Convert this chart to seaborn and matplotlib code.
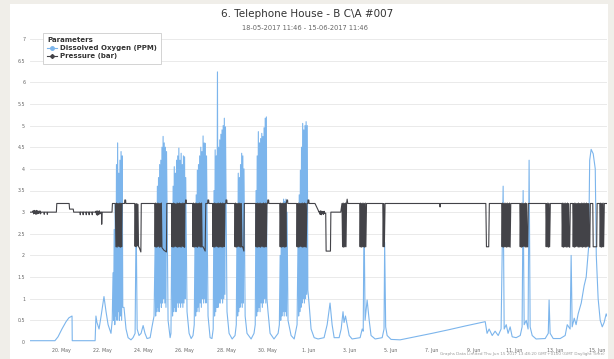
import matplotlib
matplotlib.use("Agg")
import matplotlib.pyplot as plt
import matplotlib.dates as mdates
from matplotlib.lines import Line2D
from matplotlib.patches import Rectangle
from matplotlib.ticker import FixedLocator, FuncFormatter, MultipleLocator
import pandas as pd
import seaborn as sns

# ---------------------------------------------------------------- data
START = pd.Timestamp("2017-05-18 11:46")
END = pd.Timestamp("2017-06-15 11:46")
LOG_STEP_DAYS = 40 / 1440          # logger interval inside aeration bursts

TITLE = "6. Telephone House - B C\\A #007"
SUBTITLE = "18-05-2017 11:46 - 15-06-2017 11:46"
CREDITS = "Graphs Data Limited Thu Jun 15 2017 13:48:20 GMT+0100 (GMT Daylight Time)"
SERIES_NAMES = ["Dissolved Oxygen (PPM)", "Pressure (bar)"]
LEGEND_TITLE = "Parameters"
X_TICK_DATES = pd.date_range("2017-05-20", "2017-06-15", freq="2D")

# Dissolved oxygen, sparse readings (days since start, ppm)
DO_DAYS = [0.00, 1.21, 1.36, 1.55, 1.75, 1.89, 2.04, 2.05, 3.16, 3.20, 3.25, 3.35,
           3.45, 3.59, 3.69, 3.79, 3.93, 3.99,
           4.56, 4.66, 4.76, 4.90, 5.00, 5.10, 5.15, 5.20, 5.29, 5.39, 5.49, 5.58,
           5.68, 5.83, 5.92, 6.02,
           6.70, 6.80, 6.84,
           7.62, 7.72, 7.82, 7.91, 7.97,
           8.64, 8.74, 8.83, 8.89,
           9.56, 9.66, 9.81, 9.95, 10.01,
           10.44, 10.53, 10.73, 10.87, 10.93,
           11.55, 11.65, 11.84, 12.04, 12.10,
           12.52, 12.67, 12.82, 12.96,
           13.54, 13.64, 13.79, 13.98, 14.27, 14.42, 14.56, 14.66, 14.76, 15.00,
           15.10, 15.19, 15.24, 15.31, 15.39, 15.49, 15.63, 16.02, 16.12, 16.17,
           16.21, 16.26, 16.36, 16.46, 16.55, 16.75, 17.09, 17.18, 17.21, 17.26,
           17.33, 17.52, 17.96, 18.69, 19.51, 20.29, 21.12, 22.09, 22.18, 22.28,
           22.43, 22.57, 22.72, 22.86, 22.96, 23.01, 23.11, 23.20, 23.30, 23.40,
           23.59, 23.79, 23.88, 23.93, 23.98, 24.08, 24.17, 24.22, 24.27, 24.37,
           24.56, 25.00, 25.15, 25.19, 25.24, 25.39, 25.73, 25.97, 26.07, 26.21,
           26.26, 26.31, 26.41, 26.50, 26.60, 26.75, 26.89, 26.99, 27.04, 27.11,
           27.16, 27.23, 27.33, 27.43, 27.48, 27.57, 27.67, 27.77, 27.86, 27.96,
           28.00]
DO_PPM = [0.03, 0.03, 0.12, 0.30, 0.47, 0.56, 0.60, 0.03, 0.03, 0.60, 0.45, 0.30,
          0.60, 1.05, 0.70, 0.40, 0.20, 0.50,
          0.80, 0.30, 0.10, 0.05, 0.10, 0.20, 2.90, 0.30, 0.15, 0.20, 0.38, 0.20,
          0.08, 0.10, 0.35, 0.60,
          0.50, 0.10, 0.20,
          0.70, 0.20, 0.08, 0.15, 0.40,
          0.60, 0.10, 0.08, 0.30,
          0.70, 0.20, 0.07, 0.15, 0.40,
          0.60, 0.20, 0.07, 0.20, 0.40,
          0.70, 0.20, 0.07, 0.20, 0.40,
          0.50, 0.15, 0.07, 0.40,
          0.90, 0.30, 0.10, 0.07, 0.10, 0.40, 0.90, 0.40, 0.10, 0.10,
          0.30, 0.70, 0.45, 0.60, 0.40, 0.15, 0.07, 0.10, 0.30, 0.25,
          3.00, 0.50, 0.97, 0.50, 0.15, 0.07, 0.10, 0.30, 2.30, 0.35,
          0.15, 0.06, 0.05, 0.12, 0.20, 0.28, 0.37, 0.47, 0.20, 0.30,
          0.15, 0.25, 0.15, 0.30, 3.60, 0.30, 0.40, 0.20, 0.35, 0.12,
          0.10, 0.15, 0.35, 3.50, 0.40, 0.50, 0.30, 4.20, 0.35, 0.15,
          0.07, 0.08, 0.20, 0.97, 0.20, 0.08, 0.08, 0.15, 0.40, 0.30,
          2.00, 0.35, 0.55, 0.40, 0.65, 0.90, 1.30, 1.50, 1.80, 2.20,
          4.20, 4.45, 4.35, 4.00, 2.00, 1.00, 0.50, 0.35, 0.45, 0.65,
          0.60]

# Dissolved oxygen during aeration bursts (burst start day, readings)
DO_BURST_START = [4.03, 6.07, 6.89, 8.01, 8.93, 10.05, 10.97, 12.14, 13.01]
DO_BURST_PPM = [
    [1.6, 0.5, 2.6, 0.4, 3.2, 0.6, 4.1, 0.5, 4.6, 0.7, 3.9, 0.5, 4.2, 0.6, 4.4, 0.5, 4.3, 0.8],
    [2.2, 0.6, 2.9, 0.7, 3.6, 0.8, 3.8, 0.7, 4.1, 0.9, 4.2, 0.8, 4.5, 0.9, 4.75, 1.0, 4.6, 0.9,
     4.5, 0.8, 4.4],
    [3.0, 0.6, 3.6, 0.7, 4.05, 0.8, 3.9, 0.7, 4.2, 0.9, 4.3, 0.8, 4.48, 0.9, 4.2, 0.8, 4.36, 0.9,
     4.1, 0.8, 4.3, 0.9, 4.28, 1.0, 3.8],
    [2.5, 0.6, 3.4, 0.7, 3.97, 0.8, 4.1, 0.7, 4.3, 0.9, 4.5, 0.8, 4.4, 1.0, 4.76, 0.9, 4.6, 1.0,
     4.59, 0.9, 4.3],
    [3.5, 0.6, 4.44, 0.7, 4.3, 0.8, 6.24, 0.8, 4.5, 0.9, 4.67, 0.9, 4.8, 1.0, 4.9, 0.9, 5.0, 1.0,
     5.17, 1.1, 4.97],
    [3.0, 0.6, 3.9, 0.7, 3.8, 0.8, 4.1, 0.9, 4.36, 0.8, 4.3, 0.9, 4.0],
    [3.5, 0.6, 4.3, 0.7, 4.86, 0.8, 4.6, 0.7, 4.7, 0.9, 4.82, 0.8, 4.75, 0.9, 4.95, 1.0, 5.17, 0.9,
     5.2, 1.0],
    [2.0, 0.5, 2.8, 0.6, 3.2, 0.7, 3.3, 0.6, 3.25, 0.7, 3.3, 0.6, 3.0],
    [2.5, 0.6, 3.4, 0.7, 3.97, 0.8, 4.5, 0.9, 5.05, 1.0, 4.9, 0.9, 5.0, 1.0, 5.09, 1.1, 5.0, 1.2],
]

# Pressure, sparse readings (days since start, bar)
P_DAYS = [0.00, 0.12, 0.55, 0.68, 0.69, 0.71, 0.83, 0.84, 0.86, 1.28, 1.30, 1.90,
          1.92, 2.10, 2.12, 2.43, 2.44, 2.45, 2.57, 2.58, 2.59, 2.72, 2.73, 2.74,
          2.86, 2.87, 2.88, 3.01, 3.02, 3.03, 3.18, 3.42, 3.47, 3.48, 3.50, 3.98,
          4.00, 4.14, 4.47, 4.59, 4.60, 4.64, 4.65, 5.08, 5.38, 5.40, 6.05, 6.50,
          6.62, 6.64, 6.87, 7.52, 7.54, 7.55, 7.58, 7.59, 7.89, 8.40, 8.50, 8.53,
          8.62, 8.63, 8.67, 8.68, 8.86, 9.46, 9.50, 9.51, 9.55, 9.56, 9.93, 10.32,
          10.38, 10.40, 10.95, 11.50, 11.53, 11.54, 11.58, 11.59, 12.12, 12.44, 12.46, 12.50,
          12.51, 12.94, 13.44, 13.48, 13.49, 13.53, 13.54, 13.83, 13.98, 14.02, 14.35, 14.37,
          14.58, 14.60, 15.08, 15.11, 15.39, 15.42, 16.00, 16.33, 17.12, 17.23, 19.88, 19.90,
          19.92, 22.12, 22.15, 22.26, 22.29, 22.89, 23.33, 23.77, 24.18, 25.03, 25.25, 25.81,
          26.22, 26.34, 27.19, 27.31, 27.33, 27.50, 27.52, 27.65, 27.87, 28.00]
P_BAR = [3.00, 3.00, 3.00, 3.00, 2.95, 3.00, 3.00, 2.95, 3.00, 3.00, 3.20, 3.20,
         3.07, 3.07, 3.00, 3.00, 2.94, 3.00, 3.00, 2.94, 3.00, 3.00, 2.94, 3.00,
         3.00, 2.94, 3.00, 3.00, 2.94, 3.00, 3.00, 3.00, 3.00, 2.72, 3.00, 3.00,
         3.20, 3.20, 3.20, 3.20, 3.28, 3.28, 3.20, 3.20, 2.08, 3.20, 3.20, 2.12,
         2.08, 3.20, 3.20, 3.20, 3.20, 3.28, 3.28, 3.20, 3.20, 2.20, 2.10, 3.20,
         3.20, 3.28, 3.28, 3.20, 3.20, 3.20, 3.20, 3.28, 3.28, 3.20, 3.20, 2.20,
         2.10, 3.20, 3.20, 3.20, 3.20, 3.28, 3.28, 3.20, 3.20, 3.20, 3.28, 3.28,
         3.20, 3.20, 3.20, 3.20, 3.28, 3.28, 3.20, 3.20, 3.05, 3.00, 2.98, 2.10,
         2.10, 3.00, 3.00, 3.10, 3.30, 3.20, 3.20, 3.20, 3.20, 3.20, 3.20, 3.12,
         3.20, 3.20, 2.20, 2.20, 3.20, 3.20, 3.20, 3.20, 3.20, 3.20, 3.20, 3.20,
         3.20, 3.20, 3.20, 3.20, 2.20, 2.20, 3.20, 3.20, 3.20, 3.20]

# Pressure during aeration bursts (burst start day, readings)
P_BURST_START = [0.15, 3.20, 4.17, 5.10, 6.07, 6.89, 7.91, 8.88, 9.95, 10.97, 12.14,
                 12.96, 14.05, 15.14, 16.02, 17.14, 22.91, 23.79, 25.05, 25.83, 26.36,
                 27.67]
P_BURST_BAR = [
    [3.03, 2.96, 3.04, 2.97, 3.03, 2.95, 3.04, 2.96, 3.03, 2.97, 3.02, 2.98, 3.03, 2.96],
    [3.02, 2.94, 3.03, 2.93, 3.02, 2.95, 3.03, 2.96],
    [2.20, 3.21, 2.19, 3.20, 2.21, 3.20, 2.20, 3.21, 2.19, 3.20, 2.20],
    [2.21, 3.19, 2.20, 3.20, 2.22, 3.18, 2.20, 2.19],
    [2.20, 3.21, 2.19, 3.20, 2.20, 3.21, 2.21, 3.20, 2.19, 3.20, 2.20, 3.21, 2.18],
    [2.20, 3.20, 2.19, 3.21, 2.20, 3.20, 2.21, 3.19, 2.20, 3.21, 2.19, 3.20, 2.20, 3.21,
     2.20, 3.20, 2.19, 3.20, 2.21, 3.21, 2.20, 3.20, 2.19],
    [2.20, 3.21, 2.19, 3.20, 2.20, 3.21, 2.20, 3.20, 2.19, 3.20, 2.21, 3.21, 2.20, 3.20,
     2.19, 3.21, 2.20],
    [2.20, 3.20, 2.19, 3.21, 2.20, 3.20, 2.21, 3.20, 2.20, 3.21, 2.19, 3.20, 2.20, 3.21,
     2.20, 3.20, 2.19, 3.21, 2.20, 3.20, 2.21],
    [2.20, 3.21, 2.19, 3.20, 2.20, 3.20, 2.21, 3.21, 2.20, 3.20, 2.19, 3.20, 2.20],
    [2.20, 3.20, 2.19, 3.21, 2.20, 3.20, 2.20, 3.21, 2.19, 3.20, 2.21, 3.20, 2.20, 3.21,
     2.19, 3.20, 2.20, 3.21, 2.20],
    [2.20, 3.21, 2.19, 3.20, 2.20, 3.21, 2.20, 3.20, 2.19, 3.21, 2.20],
    [2.20, 3.20, 2.19, 3.21, 2.20, 3.20, 2.21, 3.20, 2.20, 3.21, 2.19, 3.20, 2.20, 3.21,
     2.20, 3.20, 2.19],
    [3.02, 2.95, 3.03, 2.94, 3.02, 2.96, 3.01, 2.95, 3.02, 2.97],
    [3.20, 2.20, 3.21, 2.19, 3.20, 2.20, 3.21, 2.20, 3.20],
    [2.20, 3.21, 2.19, 3.20, 2.20, 3.21, 2.20, 3.20, 2.19, 3.21, 2.20],
    [2.20, 3.20, 2.20],
    [2.20, 3.21, 2.19, 3.20, 2.20, 3.21, 2.20, 3.20, 2.19, 3.21, 2.20, 3.20, 2.20, 3.21, 2.19],
    [2.20, 3.20, 2.19, 3.21, 2.20, 3.20, 2.21, 3.20, 2.20, 3.21, 2.19, 3.20, 2.20, 2.20],
    [2.20, 3.20, 2.20, 3.21, 2.19, 3.20, 2.20],
    [2.20, 3.21, 2.19, 3.20, 2.20, 3.21, 2.20, 3.20, 2.19, 3.21, 2.20, 3.20, 2.20, 2.19],
    [2.20, 3.20, 2.19, 3.21, 2.20, 3.20, 2.21, 3.20, 2.20, 3.21, 2.19, 3.20, 2.20, 3.20,
     2.20, 3.21, 2.19, 3.20, 2.20, 3.21, 2.20, 3.20, 2.19, 3.21, 2.20, 3.20, 2.21, 3.20,
     2.20, 2.19],
    [2.20, 3.21, 2.19, 3.20, 2.20, 3.21, 2.20],
]

DO_COLOR = "#7cb5ec"
P_COLOR = "#434348"


def build_series(days, values, burst_starts, burst_values):
    """Merge sparse readings with burst readings into one time-ordered frame."""
    d = list(days)
    v = list(values)
    for start, seq in zip(burst_starts, burst_values):
        for i, val in enumerate(seq):
            d.append(start + i * LOG_STEP_DAYS)
            v.append(val)
    df = pd.DataFrame({"day": d, "value": v}).sort_values("day").reset_index(drop=True)
    df["time"] = START + pd.to_timedelta(df["day"], unit="D")
    return df


do_df = build_series(DO_DAYS, DO_PPM, DO_BURST_START, DO_BURST_PPM)
p_df = build_series(P_DAYS, P_BAR, P_BURST_START, P_BURST_BAR)

# ---------------------------------------------------------------- figure
W, H = 614, 359
plt.rcParams["font.family"] = ["DejaVu Sans"]
fig = plt.figure(figsize=(W / 100, H / 100), dpi=100, facecolor="#f0eee9")
fig.patches.append(Rectangle((10 / W, 0), 598 / W, 355 / H, transform=fig.transFigure,
                             facecolor="white", edgecolor="none", zorder=-10))

ax = fig.add_axes([30 / W, (H - 342) / H, (607 - 30) / W, (342 - 39) / H])
ax.set_facecolor("none")

sns.lineplot(data=do_df, x="time", y="value", ax=ax, color=DO_COLOR, linewidth=0.8,
             estimator=None, sort=False, legend=False)
sns.lineplot(data=p_df, x="time", y="value", ax=ax, color=P_COLOR, linewidth=0.8,
             estimator=None, sort=False, legend=False)

ax.set_xlim(START, END)
ax.set_ylim(0, 7)
ax.set_xlabel("")
ax.set_ylabel("")

ax.yaxis.set_major_locator(MultipleLocator(0.5))
ax.yaxis.set_major_formatter(FuncFormatter(lambda v, _: f"{v:g}"))
ax.xaxis.set_major_locator(FixedLocator(mdates.date2num(X_TICK_DATES)))
ax.xaxis.set_major_formatter(
    FuncFormatter(lambda v, _: f"{mdates.num2date(v).day}. {mdates.num2date(v):%b}"))

ax.tick_params(axis="both", length=0, labelsize=3.4, labelcolor="#666666")
ax.tick_params(axis="y", pad=3.5)
ax.tick_params(axis="x", pad=4)
ax.grid(axis="y", color="#e6e6e6", linewidth=0.6)
ax.grid(axis="x", visible=False)
ax.set_axisbelow(True)
for s in ax.spines.values():
    s.set_visible(False)

fig.text(307 / W, 1 - 14 / H, TITLE, ha="center", va="center", fontsize=7.5, color="#333333")
fig.text(305 / W, 1 - 28 / H, SUBTITLE, ha="center", va="center", fontsize=4.8,
         color="#666666")
fig.text(605 / W, 1 - 354 / H, CREDITS, ha="right", va="center", fontsize=3,
         color="#999999")

handles = [
    Line2D([], [], color=DO_COLOR, marker="o", markersize=2.5, linewidth=0.8),
    Line2D([], [], color=P_COLOR, marker="D", markersize=2, linewidth=0.8),
]
leg = fig.legend(handles, SERIES_NAMES, title=LEGEND_TITLE, loc="upper left",
                 bbox_to_anchor=(43 / W, 1 - 33 / H), bbox_transform=fig.transFigure,
                 prop={"weight": "bold", "size": 5},
                 title_fontproperties={"weight": "bold", "size": 5},
                 frameon=True, fancybox=False, edgecolor="#cccccc", framealpha=1,
                 borderpad=0.6, labelspacing=0.3, handlelength=1.4, handletextpad=0.4,
                 borderaxespad=0)
leg._legend_box.align = "left"
leg.get_frame().set_linewidth(0.6)
for t in leg.get_texts():
    t.set_color("#333333")
leg.get_title().set_color("#333333")

fig.savefig("out.png", dpi=100, facecolor=fig.get_facecolor())
